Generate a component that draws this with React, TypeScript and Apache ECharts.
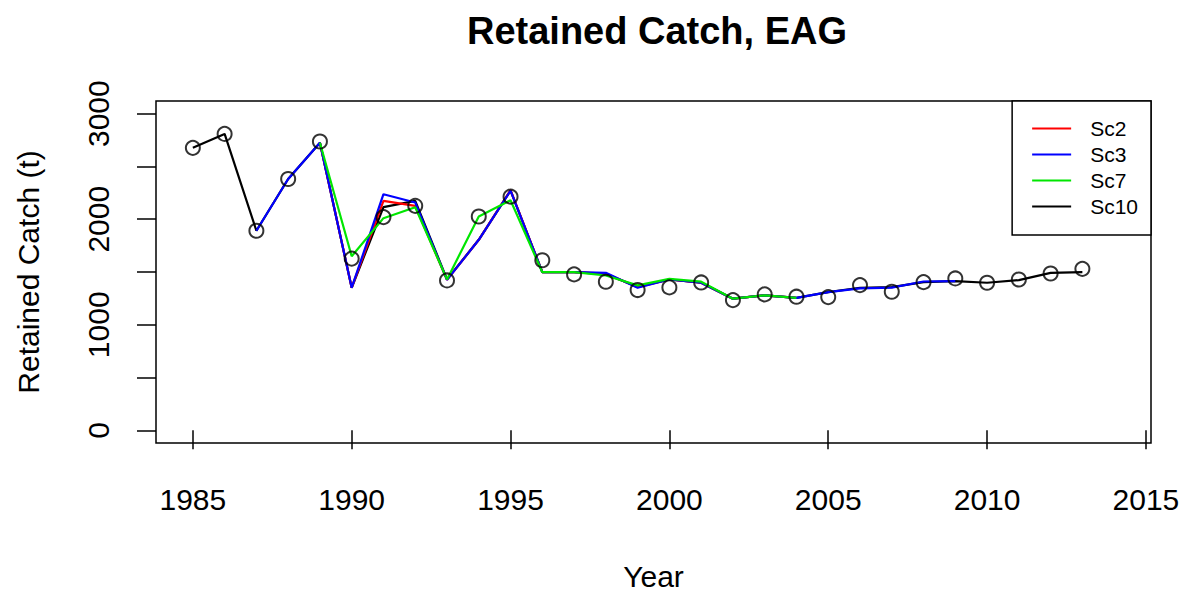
import React, { useEffect, useRef } from "react";
import * as echarts from "echarts";

const years = [1985, 1986, 1987, 1988, 1989, 1990, 1991, 1992, 1993, 1994, 1995, 1996, 1997, 1998, 1999, 2000, 2001, 2002, 2003, 2004, 2005, 2006, 2007, 2008, 2009, 2010, 2011, 2012, 2013];

const observed = [2676, 2808, 1891, 2381, 2736, 1627, 2020, 2127, 1420, 2026, 2214, 1611, 1477, 1408, 1329, 1354, 1401, 1234, 1288, 1266, 1262, 1376, 1313, 1404, 1439, 1398, 1429, 1486, 1530];

const sc10 = [2676, 2808, 1891, 2381, 2725, 1351, 2114, 2174, 1430, 1805, 2271, 1498, 1498, 1480, 1360, 1429, 1398, 1247, 1279, 1255, 1310, 1351, 1357, 1404, 1413, 1398, 1423, 1492, 1498];

const sc2 = [null, null, null, null, 2725, 1351, 2174, 2127, 1425, 1805, 2275, 1498, 1498, 1485, 1355, 1429, 1398, 1247, 1279, 1255, null, null, null, null, null, null, null, null, null];

const sc3 = [null, null, 1891, 2381, 2725, 1351, 2237, 2158, 1425, 1805, 2271, 1498, 1498, 1492, 1351, 1429, 1398, 1247, 1279, 1255, 1310, 1345, 1352, 1410, 1413, null, null, null, null];

const sc7 = [null, null, null, null, 2725, 1649, 2010, 2114, 1430, 2026, 2180, 1498, 1498, 1467, 1373, 1435, 1408, 1247, 1279, 1255, null, null, null, null, null, null, null, null, null];

const xTicks = [1985, 1990, 1995, 2000, 2005, 2010, 2015];
const yTicks = [0, 500, 1000, 1500, 2000, 2500, 3000];
const yLabels = [0, 1000, 2000, 3000];

const FONT = "'Liberation Sans', Arial, sans-serif";

const pair = (arr: (number | null)[]) => years.map((y, i) => [y, arr[i]]);

export default function App() {
  const ref = useRef<HTMLDivElement>(null);
  useEffect(() => {
    if (!ref.current) return;
    const chart = echarts.init(ref.current, undefined, { renderer: "svg" });
    const lineSeries = (name: string, data: (number | null)[], color: string) => ({
      name,
      type: "line",
      data: pair(data),
      showSymbol: false,
      symbol: "none",
      connectNulls: false,
      color,
      lineStyle: { color, width: 2.2 },
      emphasis: { disabled: true },
    });
    chart.setOption({
      animation: false,
      backgroundColor: "#fff",
      title: {
        text: "Retained Catch, EAG",
        left: 652,
        top: 7,
        textAlign: "center",
        textStyle: { fontSize: 38, fontWeight: "bold", fontFamily: FONT, color: "#000" },
      },
      legend: {
        data: ["Sc2", "Sc3", "Sc7", "Sc10"],
        orient: "vertical",
        right: 36,
        top: 101,
        icon: "rect",
        itemWidth: 39,
        itemHeight: 2,
        itemGap: 5,
        padding: [17, 13, 18, 20],
        backgroundColor: "#fff",
        borderColor: "#000",
        borderWidth: 1.5,
        borderRadius: 0,
        textStyle: { fontSize: 21, lineHeight: 21, color: "#000", fontFamily: FONT, padding: [0, 0, 0, 14] },
        z: 10,
      },
      grid: {
        left: 156,
        right: 36,
        top: 101,
        bottom: 152,
        show: true,
        borderColor: "#000",
        borderWidth: 1.5,
        backgroundColor: "transparent",
      },
      xAxis: {
        type: "value",
        min: 1983.84,
        max: 2015.16,
        axisLine: { show: false },
        splitLine: { show: false },
        axisTick: { show: true, customValues: xTicks, length: 19, lineStyle: { color: "#000", width: 1.5 } },
        axisLabel: { customValues: xTicks, fontSize: 30, margin: 41, color: "#000", fontFamily: FONT, formatter: (v: number) => String(v) },
        name: "Year",
        nameLocation: "middle",
        nameGap: 118,
        nameTextStyle: { fontSize: 30, color: "#000", fontFamily: FONT },
      },
      yAxis: {
        type: "value",
        min: -120,
        max: 3120,
        axisLine: { show: false },
        splitLine: { show: false },
        axisTick: { show: true, customValues: yTicks, length: 19, lineStyle: { color: "#000", width: 1.5 } },
        axisLabel: { customValues: yLabels, rotate: 90, fontSize: 30, margin: 43, color: "#000", fontFamily: FONT, formatter: (v: number) => String(v) },
        name: "Retained Catch (t)",
        nameLocation: "middle",
        nameGap: 113,
        nameRotate: 90,
        nameTextStyle: { fontSize: 30, color: "#000", fontFamily: FONT },
      },
      series: [
        lineSeries("Sc10", sc10, "#000000"),
        lineSeries("Sc2", sc2, "#FF0000"),
        lineSeries("Sc3", sc3, "#0000FF"),
        lineSeries("Sc7", sc7, "#00E600"),
        {
          name: "Observed",
          type: "scatter",
          data: pair(observed),
          symbol: "circle",
          symbolSize: 14,
          itemStyle: { color: "transparent", borderColor: "#000", borderWidth: 2 },
          emphasis: { disabled: true },
          z: 5,
        },
      ],
    });
    return () => chart.dispose();
  }, []);
  return <div ref={ref} style={{ position: "fixed", left: 0, top: 0, width: 1187, height: 596 }} />;
}
